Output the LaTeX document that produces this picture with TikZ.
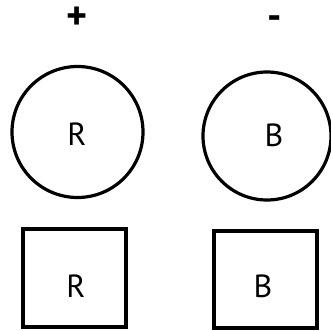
\documentclass[tikz,border=0pt]{standalone}
\usepackage{fontspec}
\setmainfont{PT Sans}
\begin{document}
\begin{tikzpicture}[x=1pt,y=-1pt,
  lbl/.style={font=\fontsize{32}{34}\selectfont, inner sep=0pt},
  sgn/.style={font=\fontsize{40}{42}\selectfont\bfseries, inner sep=0pt},
  ring/.style={draw, line width=3.2pt, circle, inner sep=0pt},
  boxsq/.style={draw, line width=3.2pt, rectangle, inner sep=0pt}]
\useasboundingbox (0,0) rectangle (331,330);
\node[sgn] (plus) at (77,18) {+};
\node[sgn] (minus) at (275,23) {-};
\node[ring, minimum size=131pt] (c1) at (77.5,132) {};
\node[ring, minimum size=128pt] (c2) at (267,136) {};
\node[lbl] (r1) at (77,134) {R};
\node[lbl] (b1) at (274,135) {B};
\node[boxsq, minimum width=103pt, minimum height=98pt] (s1) at (74.5,278) {};
\node[boxsq, minimum width=103pt, minimum height=97pt] (s2) at (265.5,279.5) {};
\node[lbl] (r2) at (76,286) {R};
\node[lbl] (b2) at (263,286) {B};
\end{tikzpicture}
\end{document}
